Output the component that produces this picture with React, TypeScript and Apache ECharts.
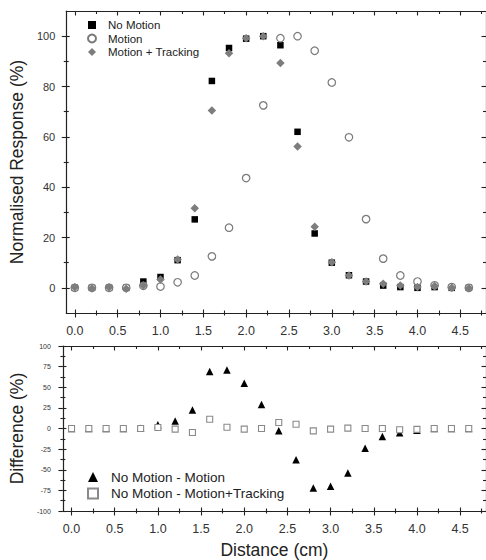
import React, { useEffect, useRef } from "react";
import * as echarts from "echarts";

const distance = [0, 0.2, 0.4, 0.6, 0.8, 1.0, 1.2, 1.4, 1.6, 1.8, 2.0, 2.2, 2.4, 2.6, 2.8, 3.0, 3.2, 3.4, 3.6, 3.8, 4.0, 4.2, 4.4, 4.6];

const noMotion = [0, 0, 0, 0, 2.5, 4.3, 11, 27.2, 82.2, 95.3, 99, 100, 96.4, 62, 21.6, 10, 5, 2.5, 0.9, 0.3, 0, 0.3, 0, 0];
const motion = [0, 0, 0, 0, 0.8, 0.5, 2.2, 4.9, 12.5, 23.9, 43.6, 72.5, 99.2, 100, 94.2, 81.6, 59.8, 27.3, 11.6, 4.9, 2.5, 1, 0.3, 0];
const motionTracking = [0.2, -0.2, 0.2, -0.4, 0.9, 3.3, 11.3, 31.6, 70.5, 93.2, 99.2, 100, 89.3, 56.2, 24.3, 10.2, 4.9, 2.5, 1.6, 0.9, 0.3, 0.7, 0, -0.2];

const diffMotion = [0, 0, 0, 0, 0.4, 4.4, 9.1, 22.3, 69, 71, 55, 29, -2.8, -38, -72, -70, -54, -24, -9.6, -5, -2, 0, 0, 0];
const diffTracking = [0, 0, 0, 0, 0, 1.2, -0.8, -4.8, 11.2, 1.6, -0.8, 0, 7.2, 5.2, -2.9, -0.8, 0.4, 0, 0, -1.6, -1, 0, 0, 0];

const xMajor = [0, 0.5, 1.0, 1.5, 2.0, 2.5, 3.0, 3.5, 4.0, 4.5];
const xMinor = [0.25, 0.75, 1.25, 1.75, 2.25, 2.75, 3.25, 3.75, 4.25, 4.75];
const respMajor = [0, 20, 40, 60, 80, 100];
const respMinor = [10, 30, 50, 70, 90];
const diffMajor = [-100, -75, -50, -25, 0, 25, 50, 75, 100];
const diffMinor = [-87.5, -62.5, -37.5, -12.5, 12.5, 37.5, 62.5, 87.5];

const FONT = "'Liberation Sans', Arial, sans-serif";
const AX = "#222";

type AxisOpts = {
  gridIndex: number;
  min: number;
  max: number;
  major: number[];
  minor: number[];
  labelFormatter: (v: number) => string;
  labelSize: number;
  labelMargin: number;
  name?: string;
  nameGap?: number;
};

function buildAxes(dim: "x" | "y", o: AxisOpts) {
  const near = dim === "x" ? "bottom" : "left";
  const far = dim === "x" ? "top" : "right";
  const base = (position: string) => ({
    type: "value",
    gridIndex: o.gridIndex,
    position,
    min: o.min,
    max: o.max,
    splitLine: { show: false },
    axisLine: { show: false, onZero: false, lineStyle: { color: AX, width: 1.2 } },
    axisTick: { show: false },
    axisLabel: { show: false },
  });
  const tick = (values: number[], inside: boolean, length: number) => ({
    show: true,
    inside,
    length,
    customValues: values,
    lineStyle: { color: AX, width: 1.1 },
  });
  const main: any = {
    ...base(near),
    axisLine: { show: true, onZero: false, lineStyle: { color: AX, width: 1.2 } },
    axisTick: tick(o.major, false, 4.5),
    axisLabel: {
      show: true,
      customValues: o.major,
      formatter: o.labelFormatter,
      fontSize: o.labelSize,
      fontFamily: FONT,
      color: "#333",
      margin: o.labelMargin,
    },
  };
  if (o.name) {
    main.name = o.name;
    main.nameLocation = "middle";
    main.nameGap = o.nameGap;
    main.nameTextStyle = { fontSize: 17.5, fontFamily: FONT, color: "#222" };
    if (dim === "y") main.nameRotate = 90;
  }
  return [
    main,
    { ...base(near), axisTick: tick(o.major, true, 3.5) },
    { ...base(near), axisTick: tick(o.minor, false, 2.5) },
    { ...base(near), axisTick: tick(o.minor, true, 2.5) },
    {
      ...base(far),
      axisLine: { show: true, onZero: false, lineStyle: { color: AX, width: 1.2 } },
      axisTick: tick(o.major, true, 4.5),
    },
    { ...base(far), axisTick: tick(o.minor, true, 3) },
  ];
}

const pairs = (vals: number[]) => distance.map((d, i) => [d, vals[i]]);

export default function App() {
  const ref = useRef<HTMLDivElement>(null);
  useEffect(() => {
    if (!ref.current) return;
    const chart = echarts.init(ref.current, null, { renderer: "svg" });
    const X_MIN = -0.1;
    const X_MAX = 4.8;
    const xFmt = (v: number) => v.toFixed(1);
    const xAxes = [
      ...buildAxes("x", { gridIndex: 0, min: X_MIN, max: X_MAX, major: xMajor, minor: xMinor, labelFormatter: xFmt, labelSize: 12.5, labelMargin: 11 }),
      ...buildAxes("x", { gridIndex: 1, min: X_MIN, max: X_MAX, major: xMajor, minor: xMinor, labelFormatter: xFmt, labelSize: 12.5, labelMargin: 11, name: "Distance (cm)", nameGap: 30 }),
    ];
    const yAxes = [
      ...buildAxes("y", { gridIndex: 0, min: -10, max: 110, major: respMajor, minor: respMinor, labelFormatter: (v: number) => String(v), labelSize: 11, labelMargin: 11, name: "Normalised Response (%)", nameGap: 34 }),
      ...buildAxes("y", { gridIndex: 1, min: -100, max: 100, major: diffMajor, minor: diffMinor, labelFormatter: (v: number) => String(v), labelSize: 7, labelMargin: 12, name: "Difference (%)", nameGap: 34 }),
    ];
    chart.setOption({
      animation: false,
      backgroundColor: "#fff",
      textStyle: { fontFamily: FONT },
      grid: [
        { left: 61, top: 11, width: 429, height: 302 },
        { left: 61, top: 346, width: 429, height: 167 },
      ],
      xAxis: xAxes,
      yAxis: yAxes,
      legend: [
        {
          data: ["No Motion", "Motion", "Motion + Tracking"],
          orient: "vertical",
          left: 82,
          top: 14,
          itemWidth: 8,
          itemHeight: 8,
          itemGap: 1.5,
          selectedMode: false,
          textStyle: { fontSize: 11.5, fontFamily: FONT, color: "#222", padding: [0, 0, 0, 7] },
        },
        {
          data: ["No Motion - Motion", "No Motion - Motion+Tracking"],
          orient: "vertical",
          left: 82,
          top: 465,
          itemWidth: 10,
          itemHeight: 10,
          itemGap: 2.5,
          selectedMode: false,
          textStyle: { fontSize: 13.5, fontFamily: FONT, color: "#222", padding: [0, 0, 0, 8] },
        },
      ],
      series: [
        {
          name: "No Motion",
          type: "scatter",
          xAxisIndex: 0,
          yAxisIndex: 0,
          symbol: "rect",
          symbolSize: 6.5,
          itemStyle: { color: "#000", opacity: 1 },
          data: pairs(noMotion),
        },
        {
          name: "Motion",
          type: "scatter",
          xAxisIndex: 0,
          yAxisIndex: 0,
          symbol: "circle",
          symbolSize: 7.5,
          itemStyle: { color: "#fff", borderColor: "#7a7a7a", borderWidth: 1.2, opacity: 1 },
          data: pairs(motion),
        },
        {
          name: "Motion + Tracking",
          type: "scatter",
          xAxisIndex: 0,
          yAxisIndex: 0,
          symbol: "diamond",
          symbolSize: 8.5,
          itemStyle: { color: "#7d7d7d", opacity: 1 },
          data: pairs(motionTracking),
        },
        {
          name: "No Motion - Motion",
          type: "scatter",
          xAxisIndex: 6,
          yAxisIndex: 6,
          symbol: "triangle",
          symbolSize: 7.5,
          itemStyle: { color: "#000", opacity: 1 },
          data: pairs(diffMotion),
        },
        {
          name: "No Motion - Motion+Tracking",
          type: "scatter",
          xAxisIndex: 6,
          yAxisIndex: 6,
          symbol: "rect",
          symbolSize: 6,
          itemStyle: { color: "#fff", borderColor: "#8a8a8a", borderWidth: 1.1, opacity: 1 },
          data: pairs(diffTracking),
        },
      ],
    });
    return () => chart.dispose();
  }, []);
  return <div ref={ref} style={{ position: "absolute", left: 0, top: 0, width: 486, height: 560 }} />;
}
